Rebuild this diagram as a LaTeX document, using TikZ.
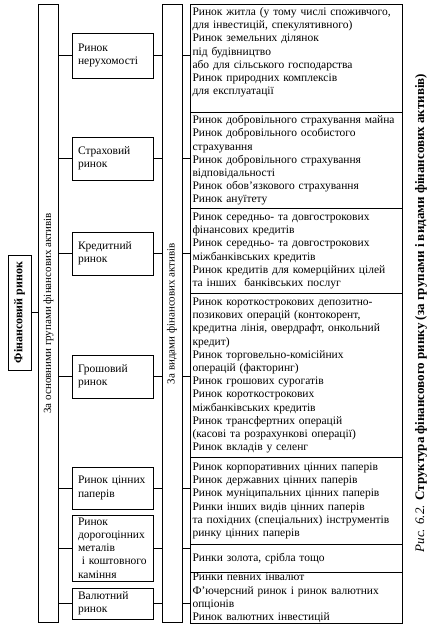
\documentclass[tikz,border=0pt]{standalone}
\usepackage{fontspec}
\setmainfont{Liberation Serif}
\usepackage{tikz}
\usetikzlibrary{positioning}
\usetikzlibrary{calc}
\newcommand{\fs}{\fontsize{11.5}{13.2}\selectfont}

\begin{document}
\begin{tikzpicture}[
x=1pt, y=-1pt,
Columns/.style={draw=black,thick,rotate=90,minimum width=618pt,minimum height=20pt,inner sep=0pt,font=\fontsize{11}{13}\selectfont},
GroupBox/.style={draw=black,thick,text width=69pt,inner xsep=6pt,inner ysep=0pt,align=left,font=\fs},
KindBox/.style={draw=black,thick,text width=207pt,inner xsep=2.5pt,inner ysep=0pt,outer sep=0pt,align=left,font=\fs},
Links/.style={draw=black,thick},
every node/.style={scale=1}
]

\useasboundingbox (0,0) rectangle (437,629);

% the whole market and the two ways of splitting it
\node[draw=black,thick,rotate=90,minimum width=115pt,minimum height=23pt,font=\fontsize{12}{13}\selectfont\bfseries] (fin) at (19.5,312.5) {Фінансовий ринок};

\node[Columns] (colA) at (48.5,313.5) {За основними групами фінансових активів};
\node[Columns] (colB) at (172,313.5) {За видами фінансових активів};

\draw[Links] (fin.south) -- (fin.south -| colA.north);

% groups of assets
\node[GroupBox, minimum height=45pt] (gNer) at (112.5,55.5) {Ринок\\нерухомості};
\node[GroupBox, minimum height=43pt] (gStr) at (112.5,158.5) {Страховий\\ринок};
\node[GroupBox, minimum height=43pt] (gKred) at (112.5,253.5) {Кредитний\\ринок};
\node[GroupBox, minimum height=43pt] (gGrosh) at (112.5,376.5) {Грошовий\\ринок};
\node[GroupBox, minimum height=42pt] (gCin) at (112.5,488) {Ринок цінних\\паперів};
\node[GroupBox, minimum height=66pt] (gMet) at (112.5,548) {Ринок\\дорогоцінних\\металів\\\ і коштовного\\каміння};
\node[GroupBox, minimum height=31pt] (gVal) at (112.5,603.5) {Валютний\\ринок};

% kinds of assets
\node[KindBox, minimum height=108pt, anchor=north west] (kNer) at (190,4.5) {\parbox[c][102pt][t]{207pt}{Ринок житла (у тому числі споживчого,\\
для інвестицій, спекулятивного)\\
Ринок земельних ділянок\\
під будівництво\\
або для сільського господарства\\
Ринок природних комплексів\\
для експлуатації}};

\node[KindBox, minimum height=96pt, below=0pt of kNer] (kStr) {Ринок добровільного страхування майна\\
Ринок добровільного особистого\\
страхування\\
Ринок добровільного страхування\\
відповідальності\\
Ринок обов’язкового страхування\\
Ринок ануїтету};

\node[KindBox, minimum height=85pt, below=0pt of kStr] (kKred) {Ринок середньо- та довгострокових\\
фінансових кредитів\\
Ринок середньо- та довгострокових\\
міжбанківських кредитів\\
Ринок кредитів для комерційних цілей\\
та інших\ \ банківських послуг};

\node[KindBox, minimum height=164pt, below=0pt of kKred] (kGrosh) {Ринок короткострокових депозитно-\\
позикових операцій (контокорент,\\
кредитна лінія, овердрафт, онкольний\\
кредит)\\
Ринок торговельно-комісійних\\
операцій (факторинг)\\
Ринок грошових сурогатів\\
Ринок короткострокових\\
міжбанківських кредитів\\
Ринок трансфертних операцій\\
(касові та розрахункові операції)\\
Ринок вкладів у селенг};

\node[KindBox, minimum height=87pt, below=0pt of kGrosh] (kCin) {Ринок корпоративних цінних паперів\\
Ринок державних цінних паперів\\
Ринок муніципальних цінних паперів\\
Ринки інших видів цінних паперів\\
та похідних (спеціальних) інструментів\\
ринку цінних паперів};

\node[KindBox, minimum height=28pt, below=0pt of kCin] (kMet) {Ринки золота, срібла тощо};

\node[KindBox, minimum height=51pt, below=0pt of kMet] (kVal) {Ринки певних інвалют\\
Ф’ючерсний ринок і ринок валютних\\
опціонів\\
Ринок валютних інвестицій};

% links row by row
\foreach \g/\k in {gNer/kNer, gStr/kStr, gKred/kKred, gGrosh/kGrosh, gCin/kCin, gMet/kMet, gVal/kVal}{
\draw[Links] (\g.west -| colA.south) -- (\g.west);
\draw[Links] (\g.east) -- (\g.east -| colB.north);
\draw[Links] (\g.east -| colB.south) -- (\g.east -| \k.west);
}

\node[rotate=90,font=\fontsize{13}{14}\selectfont] (caption) at (421,313) {\textit{Рис. 6.2.} \textbf{Структура фінансового ринку (за групами і видами фінансових активів)}};

\end{tikzpicture}
\end{document}
